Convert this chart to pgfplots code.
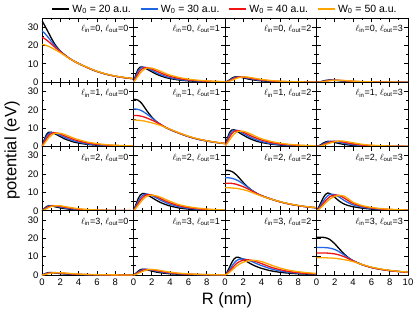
\documentclass[border=0pt]{standalone}
\usepackage{fontspec}
\setmainfont{Liberation Sans}
\usepackage{pgfplots}
\pgfplotsset{compat=1.18}
\usepackage{pgfplotstable}
\usepgfplotslibrary{groupplots}
\usetikzlibrary{calc}
\definecolor{cK}{RGB}{0,0,0}
\definecolor{cB}{RGB}{31,102,229}
\definecolor{cR}{RGB}{240,20,20}
\definecolor{cO}{RGB}{255,165,0}
\pgfplotsset{legend image code/.code={\draw[#1,line width=2pt] (0pt,0pt) -- (17pt,0pt);}}

% columns: R, black (20), blue (30), red (40), orange (50)
\pgfplotstableread{
R k b r o
0 33.5 28.0 24.4 20.6
0.25 31.3 26.9 23.9 20.4
0.5 29.0 25.5 23.0 20.0
0.75 26.6 24.0 22.0 19.5
1 24.2 22.4 20.9 18.9
1.25 22.0 20.8 19.8 18.2
1.5 20.0 19.3 18.7 17.5
2 17.0 16.9 16.6 16.1
2.5 14.8 14.8 14.7 14.5
3 13.0 13.0 13.0 12.9
3.5 11.5 11.5 11.5 11.5
4 10.2 10.2 10.2 10.2
5 7.9 7.9 7.9 8.0
6 5.9 5.9 5.9 6.0
7 4.4 4.4 4.4 4.5
8 3.3 3.3 3.3 3.4
9 2.5 2.5 2.5 2.6
10 1.9 1.9 1.9 2.0
}\tAA
\pgfplotstableread{
R k b r o
0 0 0 0 0
0.25 4.0 3.2 2.4 1.6
0.5 7.0 6.0 4.7 3.4
0.75 8.3 7.6 6.5 5.1
1 8.3 8.2 7.5 6.4
1.25 7.8 8.1 8.0 7.3
1.5 7.1 7.7 8.0 7.8
2 5.7 6.5 7.2 7.7
2.5 4.4 5.2 6.1 6.9
3 3.4 4.1 5.0 5.9
3.5 2.6 3.2 4.0 4.8
4 2.0 2.5 3.2 3.9
5 1.2 1.5 2.0 2.6
6 0.75 0.95 1.3 1.7
7 0.48 0.62 0.85 1.1
8 0.32 0.42 0.57 0.75
9 0.22 0.28 0.38 0.5
10 0.15 0.2 0.26 0.35
}\tAB
\pgfplotstableread{
R k b r o
0 0 0 0 0
0.25 0.5 0.35 0.25 0.18
0.5 1.3 1.0 0.75 0.55
0.75 2.2 1.8 1.4 1.05
1 2.8 2.4 2.0 1.6
1.25 3.0 2.8 2.5 2.1
1.5 2.9 2.9 2.8 2.5
2 2.4 2.7 2.9 2.9
2.5 1.8 2.2 2.5 2.8
3 1.35 1.7 2.0 2.4
3.5 1.0 1.3 1.6 1.95
4 0.75 1.0 1.25 1.55
5 0.42 0.6 0.75 0.95
6 0.25 0.36 0.46 0.6
7 0.15 0.22 0.29 0.38
8 0.1 0.14 0.18 0.25
9 0.06 0.09 0.12 0.16
10 0.04 0.06 0.08 0.11
}\tAC
\pgfplotstableread{
R k b r o
0 0 0 0 0
0.25 0.1 0.07 0.05 0.03
0.5 0.35 0.25 0.18 0.12
0.75 0.7 0.52 0.4 0.28
1 1.0 0.8 0.63 0.47
1.25 1.15 1.0 0.85 0.67
1.5 1.2 1.12 1.0 0.85
2 1.05 1.15 1.15 1.08
2.5 0.8 0.95 1.05 1.12
3 0.58 0.72 0.85 0.98
3.5 0.42 0.54 0.66 0.8
4 0.3 0.4 0.5 0.62
5 0.16 0.22 0.28 0.37
6 0.08 0.12 0.16 0.21
7 0.05 0.07 0.09 0.13
8 0.03 0.04 0.06 0.08
9 0.02 0.03 0.04 0.05
10 0.01 0.02 0.02 0.03
}\tAD
\pgfplotstableread{
R k b r o
0 0 0 0 0
0.25 3.8 3.0 2.3 1.5
0.5 6.6 5.6 4.4 3.2
0.75 7.8 7.1 6.1 4.8
1 7.8 7.7 7.0 6.0
1.25 7.3 7.6 7.5 6.9
1.5 6.7 7.2 7.5 7.3
2 5.4 6.1 6.8 7.2
2.5 4.1 4.9 5.7 6.5
3 3.2 3.9 4.7 5.5
3.5 2.4 3.0 3.8 4.5
4 1.9 2.4 3.0 3.7
5 1.1 1.4 1.9 2.4
6 0.7 0.9 1.2 1.6
7 0.45 0.58 0.8 1.0
8 0.3 0.4 0.54 0.7
9 0.2 0.26 0.36 0.47
10 0.14 0.19 0.24 0.33
}\tBA
\pgfplotstableread{
R k b r o
0 25.7 20.4 16.9 14.4
0.25 25.6 20.4 16.9 14.4
0.5 25.2 20.2 16.8 14.3
0.75 24.3 19.8 16.6 14.2
1 22.8 19.2 16.3 14.0
1.25 21.0 18.4 15.9 13.8
1.5 19.2 17.5 15.4 13.5
2 16.0 15.6 14.4 12.9
2.5 13.6 13.6 13.2 12.2
3 11.8 11.9 11.9 11.4
3.5 10.4 10.4 10.5 10.4
4 9.2 9.2 9.3 9.4
5 7.2 7.2 7.3 7.4
6 5.4 5.4 5.5 5.6
7 4.0 4.0 4.1 4.2
8 3.0 3.0 3.1 3.1
9 2.2 2.2 2.3 2.3
10 1.6 1.6 1.7 1.7
}\tBB
\pgfplotstableread{
R k b r o
0 0 0 0 0
0.25 4.3 3.4 2.6 1.7
0.5 7.6 6.5 5.1 3.6
0.75 9.0 8.3 7.1 5.4
1 9.1 8.9 8.2 6.8
1.25 8.5 8.8 8.7 7.8
1.5 7.7 8.4 8.7 8.3
2 6.2 7.1 7.8 8.3
2.5 4.8 5.7 6.6 7.5
3 3.7 4.5 5.4 6.4
3.5 2.8 3.5 4.4 5.2
4 2.2 2.7 3.5 4.2
5 1.3 1.6 2.2 2.8
6 0.8 1.0 1.4 1.85
7 0.52 0.68 0.93 1.2
8 0.35 0.46 0.62 0.8
9 0.24 0.3 0.41 0.54
10 0.16 0.22 0.28 0.38
}\tBC
\pgfplotstableread{
R k b r o
0 0 0 0 0
0.25 0.4 0.25 0.17 0.1
0.5 1.1 0.75 0.5 0.35
0.75 1.9 1.4 1.0 0.7
1 2.5 2.0 1.5 1.1
1.25 2.8 2.5 2.0 1.5
1.5 2.75 2.8 2.4 1.9
2 2.2 2.8 2.9 2.6
2.5 1.6 2.3 2.8 3.0
3 1.15 1.75 2.35 2.9
3.5 0.82 1.3 1.85 2.5
4 0.6 0.95 1.4 2.0
5 0.32 0.52 0.8 1.2
6 0.18 0.3 0.47 0.72
7 0.1 0.18 0.28 0.44
8 0.06 0.11 0.17 0.27
9 0.04 0.07 0.11 0.17
10 0.03 0.05 0.07 0.11
}\tBD
\pgfplotstableread{
R k b r o
0 0 0 0 0
0.25 1.2 0.9 0.65 0.45
0.5 2.3 1.9 1.5 1.1
0.75 2.8 2.6 2.2 1.75
1 2.7 2.8 2.6 2.25
1.25 2.4 2.7 2.8 2.6
1.5 2.1 2.5 2.75 2.75
2 1.55 2.0 2.4 2.7
2.5 1.15 1.5 1.9 2.3
3 0.85 1.15 1.5 1.85
3.5 0.62 0.85 1.15 1.45
4 0.46 0.65 0.88 1.12
5 0.26 0.38 0.52 0.68
6 0.15 0.22 0.31 0.42
7 0.09 0.14 0.19 0.26
8 0.06 0.09 0.12 0.17
9 0.04 0.06 0.08 0.11
10 0.03 0.04 0.05 0.07
}\tCA
\pgfplotstableread{
R k b r o
0 0 0 0 0
0.25 3.2 2.4 1.8 1.3
0.5 6.4 5.0 3.9 2.9
0.75 8.6 7.1 5.8 4.5
1 9.4 8.4 7.3 6.0
1.25 9.3 9.0 8.3 7.2
1.5 8.7 9.1 8.8 8.0
2 7.2 8.3 8.6 8.5
2.5 5.7 7.0 7.7 8.1
3 4.4 5.7 6.5 7.3
3.5 3.4 4.5 5.3 6.2
4 2.6 3.5 4.3 5.1
5 1.5 2.1 2.7 3.3
6 0.9 1.3 1.7 2.2
7 0.55 0.8 1.1 1.45
8 0.35 0.52 0.72 0.95
9 0.23 0.34 0.48 0.64
10 0.15 0.23 0.32 0.43
}\tCB
\pgfplotstableread{
R k b r o
0 22.0 18.0 15.0 12.5
0.25 22.0 18.0 15.0 12.5
0.5 21.8 17.9 15.0 12.5
0.75 21.4 17.7 14.9 12.4
1 20.6 17.3 14.7 12.3
1.25 19.5 16.8 14.4 12.2
1.5 18.2 16.2 14.0 12.0
2 15.4 14.6 13.1 11.5
2.5 12.9 12.7 11.9 10.8
3 10.9 10.9 10.6 9.9
3.5 9.4 9.4 9.3 8.9
4 8.2 8.2 8.2 8.0
5 6.4 6.4 6.4 6.4
6 4.9 4.9 4.9 5.0
7 3.7 3.7 3.7 3.8
8 2.8 2.8 2.8 2.9
9 2.1 2.1 2.1 2.2
10 1.6 1.6 1.6 1.7
}\tCC
\pgfplotstableread{
R k b r o
0 0 0 0 0
0.25 2.0 1.4 1.0 0.7
0.5 4.6 3.3 2.4 1.8
0.75 7.2 5.3 4.0 3.0
1 9.0 7.0 5.5 4.3
1.25 9.7 8.3 6.8 5.5
1.5 9.3 9.0 7.8 6.5
2 7.3 8.8 8.6 7.8
2.5 5.2 7.4 8.3 8.4
3 3.7 5.7 7.0 8.0
3.5 2.8 4.3 5.4 6.4
4 2.2 3.2 4.0 4.6
5 1.4 1.9 2.4 2.8
6 0.9 1.2 1.5 1.8
7 0.6 0.8 1.0 1.2
8 0.4 0.55 0.68 0.82
9 0.28 0.38 0.47 0.56
10 0.2 0.27 0.33 0.4
}\tCD
\pgfplotstableread{
R k b r o
0 0 0 0 0
0.25 0.55 0.4 0.28 0.2
0.5 1.05 0.85 0.65 0.48
0.75 1.3 1.15 0.98 0.78
1 1.3 1.3 1.18 1.02
1.25 1.2 1.3 1.28 1.18
1.5 1.05 1.22 1.3 1.26
2 0.78 0.98 1.15 1.25
2.5 0.56 0.74 0.92 1.08
3 0.4 0.55 0.7 0.87
3.5 0.29 0.41 0.53 0.68
4 0.21 0.3 0.4 0.52
5 0.11 0.17 0.23 0.31
6 0.06 0.1 0.13 0.18
7 0.04 0.06 0.08 0.11
8 0.02 0.04 0.05 0.07
9 0.02 0.02 0.03 0.04
10 0.01 0.02 0.02 0.03
}\tDA
\pgfplotstableread{
R k b r o
0 0 0 0 0
0.25 0.9 0.65 0.45 0.3
0.5 2.1 1.6 1.15 0.8
0.75 2.9 2.4 1.9 1.4
1 3.2 2.9 2.5 1.95
1.25 3.1 3.1 2.9 2.45
1.5 2.8 3.1 3.05 2.8
2 2.15 2.7 2.9 3.0
2.5 1.6 2.1 2.5 2.8
3 1.2 1.6 2.0 2.4
3.5 0.9 1.25 1.6 1.95
4 0.68 0.95 1.25 1.55
5 0.4 0.57 0.76 0.98
6 0.24 0.35 0.47 0.62
7 0.15 0.22 0.3 0.4
8 0.1 0.14 0.19 0.26
9 0.07 0.09 0.12 0.17
10 0.05 0.06 0.08 0.11
}\tDB
\pgfplotstableread{
R k b r o
0 0 0 0 0
0.25 1.8 1.2 0.9 0.6
0.5 4.3 2.9 2.1 1.5
0.75 6.9 4.8 3.6 2.6
1 8.8 6.5 5.0 3.7
1.25 9.7 7.8 6.2 4.8
1.5 9.6 8.5 7.1 5.7
2 8.5 8.8 8.1 7.0
2.5 7.0 8.2 8.3 7.7
3 5.6 7.2 7.9 8.0
3.5 4.5 6.1 7.1 7.8
4 3.6 5.1 6.2 7.3
5 2.3 3.4 4.3 5.5
6 1.5 2.2 2.9 3.8
7 1.0 1.45 1.9 2.6
8 0.65 0.95 1.25 1.8
9 0.45 0.65 0.85 1.25
10 0.3 0.45 0.58 0.85
}\tDC
\pgfplotstableread{
R k b r o
0 20.6 15.0 12.0 9.4
0.25 20.6 15.0 12.0 9.4
0.5 20.6 15.0 12.0 9.4
0.75 20.5 15.0 12.0 9.4
1 20.3 14.9 12.0 9.4
1.25 19.9 14.8 11.9 9.3
1.5 19.2 14.6 11.8 9.3
2 17.0 13.9 11.5 9.1
2.5 14.2 12.6 10.9 8.8
3 11.6 11.0 10.0 8.4
3.5 9.4 9.3 8.9 7.9
4 7.8 7.8 7.7 7.3
5 5.6 5.6 5.6 5.7
6 4.1 4.1 4.1 4.3
7 3.1 3.1 3.1 3.3
8 2.4 2.4 2.4 2.55
9 1.9 1.9 1.9 2.0
10 1.5 1.5 1.5 1.6
}\tDD

\newcommand{\four}[1]{%
  \addplot[color=cK, line width=1.3pt] table[x=R,y=k]{#1};
  \addplot[color=cB, line width=1.3pt] table[x=R,y=b]{#1};
  \addplot[color=cR, line width=1.3pt] table[x=R,y=r]{#1};
  \addplot[color=cO, line width=1.3pt] table[x=R,y=o]{#1};
}
\newcommand{\plab}[2]{\node[anchor=north east, inner sep=0pt, font=\fontsize{9}{10}\selectfont] at (rel axis cs:0.945,0.89) {$\ell$\textsubscript{in}=#1, $\ell$\textsubscript{out}=#2};}

\begin{document}
\begin{tikzpicture}
\begin{groupplot}[
  group style={group size=4 by 4, horizontal sep=0pt, vertical sep=0pt,
    xticklabels at=edge bottom, yticklabels at=edge left},
  scale only axis, width=91.5pt, height=64.25pt,
  xmin=0, xmax=10, ymin=0, ymax=35,
  xtick={0,2,4,6,8,10}, ytick={0,10,20,30},
  xticklabels={0,2,4,6,8,}, yticklabels={0,10,20,30},
  minor x tick num=1, minor y tick num=1,
  tick pos=both, tick align=inside,
  major tick length=4.5pt, minor tick length=2.5pt,
  every tick/.style={black, line width=0.8pt},
  axis line style={line width=0.9pt},
  tick label style={font=\fontsize{9.5}{10}\selectfont},
  /pgf/number format/assume math mode=true,
  every axis plot/.append style={smooth, tension=0.4, mark=none},
  clip=true,
]
\nextgroupplot[
  legend columns=4,
  legend style={at={(2.0,1.0)}, anchor=south, yshift=1pt, draw=none, fill=none, inner sep=1pt,
    font=\fontsize{10.5}{11}\selectfont,
    /tikz/every even column/.append style={column sep=7pt}},
]
\four{\tAA}
\addlegendentry{W\textsubscript{0} = 20 a.u.}
\addlegendentry{W\textsubscript{0} = 30 a.u.}
\addlegendentry{W\textsubscript{0} = 40 a.u.}
\addlegendentry{W\textsubscript{0} = 50 a.u.}
\plab{0}{0}
\coordinate (TL) at (rel axis cs:0,1);
\nextgroupplot \four{\tAB}\plab{0}{1}
\nextgroupplot \four{\tAC}\plab{0}{2}
\nextgroupplot \four{\tAD}\plab{0}{3}
\nextgroupplot \four{\tBA}\plab{1}{0}
\nextgroupplot \four{\tBB}\plab{1}{1}
\nextgroupplot \four{\tBC}\plab{1}{2}
\nextgroupplot \four{\tBD}\plab{1}{3}
\nextgroupplot \four{\tCA}\plab{2}{0}
\nextgroupplot \four{\tCB}\plab{2}{1}
\nextgroupplot \four{\tCC}\plab{2}{2}
\nextgroupplot \four{\tCD}\plab{2}{3}
\nextgroupplot \four{\tDA}\plab{3}{0}
\coordinate (BL) at (rel axis cs:0,0);
\nextgroupplot \four{\tDB}\plab{3}{1}
\nextgroupplot \four{\tDC}\plab{3}{2}
\nextgroupplot[xticklabels={0,2,4,6,8,10}] \four{\tDD}\plab{3}{3}
\coordinate (BR) at (rel axis cs:1,0);
\end{groupplot}
\node[rotate=90, font=\fontsize{16.5}{18}\selectfont] at ($(TL)!0.5!(BL)+(-30pt,-4pt)$) {potential (eV)};
\node[font=\fontsize{16.5}{18}\selectfont] at ($(BL)!0.5!(BR)+(2pt,-25pt)$) {R (nm)};
\pgfresetboundingbox
\path[use as bounding box] ([xshift=-42pt,yshift=18pt]TL) rectangle ([xshift=7pt,yshift=-35pt]BR);
\end{tikzpicture}
\end{document}
